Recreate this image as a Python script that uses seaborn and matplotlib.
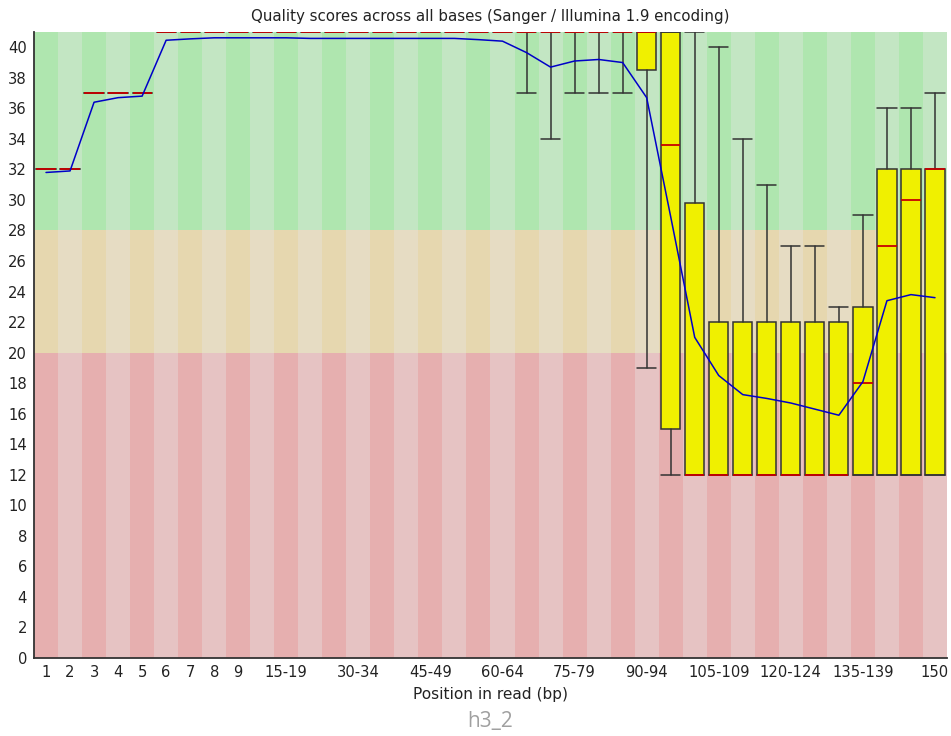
import numpy as np
import matplotlib
matplotlib.use("Agg")
import matplotlib.pyplot as plt
import seaborn as sns

# ---------------- data ----------------
positions_labels = ['1', '2', '3', '4', '5', '6', '7', '8', '9',
                    '10-14', '15-19', '20-24', '25-29', '30-34', '35-39', '40-44', '45-49',
                    '50-54', '55-59', '60-64', '65-69', '70-74', '75-79', '80-84', '85-89',
                    '90-94', '95-99', '100-104', '105-109', '110-114', '115-119', '120-124',
                    '125-129', '130-134', '135-139', '140-144', '145-149', '150']
shown_labels = ['1', '2', '3', '4', '5', '6', '7', '8', '9', '15-19', '30-34', '45-49',
                '60-64', '75-79', '90-94', '105-109', '120-124', '135-139', '150']

medians = [32, 32, 37, 37, 37] + [41] * 21 + [33.6, 12] + [12] * 6 + [18, 27, 30, 32]
q1 = [32, 32, 37, 37, 37] + [41] * 20 + [38.5, 15] + [12] * 11
q3 = [32, 32, 37, 37, 37] + [41] * 22 + [29.8] + [22] * 6 + [23, 32, 32, 32]
whislo = [32, 32, 37, 37, 37] + [41] * 15 + [37, 34, 37, 37, 37, 19] + [12] * 12
whishi = [32, 32, 37, 37, 37] + [41] * 23 + [40, 34, 31, 27, 27, 23, 29, 36, 36, 37]
means = [31.8, 31.9, 36.4, 36.7, 36.8, 40.46, 40.55,
         40.62, 40.62, 40.62, 40.62,
         40.58, 40.58, 40.58, 40.58, 40.58, 40.58, 40.58,
         40.5, 40.4, 39.65, 38.7, 39.1, 39.2, 39.0,
         36.7, 28.9, 21.0, 18.5, 17.25, 17.0, 16.7, 16.3, 15.9,
         18.1, 23.4, 23.8, 23.6]

# zone boundaries / colours (FastQC)
zone_edges = [0, 20, 28, 41]
zone_light = ['#e6c3c3', '#e6dcc3', '#c3e6c3']
zone_dark = ['#e6afaf', '#e6d7af', '#afe6af']

# ---------------- plot ----------------
sns.set_style("white")
plt.rcParams['font.family'] = ['DejaVu Sans']

fig = plt.figure(figsize=(9.51, 7.36), dpi=100)
ax = fig.add_axes([34 / 951, (736 - 658) / 736, (947 - 34) / 951, (658 - 32) / 736])

n = len(positions_labels)
x = np.arange(n)

# background bands
for z in range(3):
    cols = [zone_dark[z] if i % 2 == 0 else zone_light[z] for i in range(n)]
    ax.bar(x, zone_edges[z + 1] - zone_edges[z], bottom=zone_edges[z], width=1.0,
           color=cols, linewidth=0, zorder=0)

stats = []
for i in range(n):
    stats.append(dict(med=medians[i], q1=q1[i], q3=q3[i], whislo=whislo[i],
                      whishi=whishi[i], fliers=[], label=positions_labels[i]))

ax.bxp(stats, positions=x, widths=0.8, capwidths=0.8, patch_artist=True,
       showfliers=False, manage_ticks=False,
       boxprops=dict(facecolor='#f0f000', edgecolor='#333333', linewidth=1.1),
       whiskerprops=dict(color='#333333', linewidth=1.1),
       capprops=dict(color='#333333', linewidth=1.1),
       medianprops=dict(color='#c80000', linewidth=1.3, zorder=4))

sns.lineplot(x=x, y=means, ax=ax, color='#0000c8', linewidth=1.1, zorder=5)

ax.set_xlim(-0.5, n - 0.5)
ax.set_ylim(0, 41)
ax.set_yticks(np.arange(0, 41, 2))
ax.set_xticks([positions_labels.index(l) for l in shown_labels])
ax.set_xticklabels(shown_labels)
ax.tick_params(axis='both', length=0, labelsize=10.6, colors='#222222', pad=5)
for s in ['top', 'right']:
    ax.spines[s].set_visible(False)
for s in ['left', 'bottom']:
    ax.spines[s].set_color('#333333')
    ax.spines[s].set_linewidth(1.3)
ax.set_xlabel('Position in read (bp)', fontsize=11.1, color='#222222', labelpad=5)
ax.set_ylabel('')
ax.set_title('Quality scores across all bases (Sanger / Illumina 1.9 encoding)',
             fontsize=10.8, color='#222222', pad=8)

fig.text(490 / 951, 1 - 721 / 736, 'h3_2', ha='center', va='center', fontsize=15,
         color='#a0a0a0', family=['Open Sans', 'DejaVu Sans'])

fig.savefig('out.png', dpi=100)
